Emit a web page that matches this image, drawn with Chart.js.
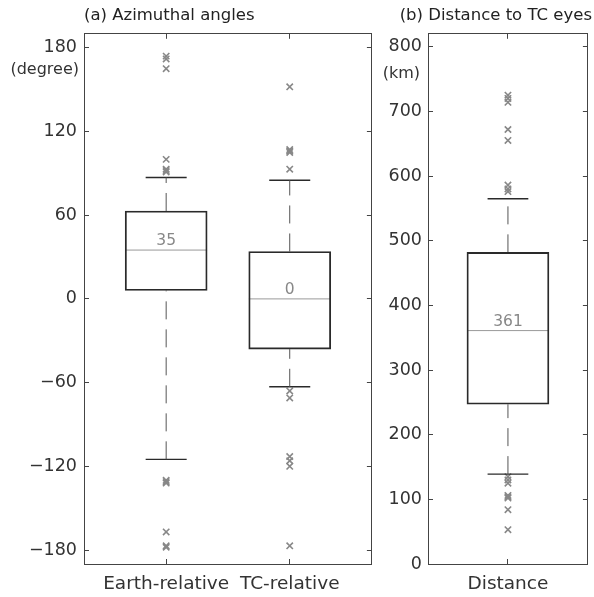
<!DOCTYPE html>
<html>
<head>
<meta charset="utf-8">
<script src="https://cdn.jsdelivr.net/npm/chart.js@4.4.1/dist/chart.umd.min.js"></script>
<style>
  html, body { margin:0; padding:0; background:#fff; }
  #wrap { position:relative; width:594px; height:597px; }
  #chartA { position:absolute; left:0; top:0; }
  #chartB { position:absolute; left:378px; top:0; }
</style>
</head>
<body>
<div id="wrap">
  <canvas id="chartA" width="378" height="597"></canvas>
  <canvas id="chartB" width="216" height="597"></canvas>
</div>
<script>
// Panel (a) azimuthal angles
const categoriesA = ['Earth-relative', 'TC-relative'];
const q1A = [6, -36];
const medianA = [35, 0];
const q3A = [63, 34];
const whiskerLowA = [-115, -63];
const whiskerHighA = [87, 85];
const outliersEarth = [174, 172, 165, 100, 93, 92, 91, -130, -131, -132, -167, -177, -178];
const outliersTC = [152, 107, 106, 105, 93, -66, -71, -113, -116, -120, -177];
const yTicksA = [-180, -120, -60, 0, 60, 120, 180];

// Panel (b) distance to TC eyes
const categoriesB = ['Distance'];
const q1B = [247];
const medianB = [361];
const q3B = [482];
const whiskerLowB = [139];
const whiskerHighB = [565];
const outliersDistance = [725, 720, 714, 672, 655, 586, 580, 576, 135, 130, 125, 106, 104, 102, 84, 53];
const yTicksB = [0, 100, 200, 300, 400, 500, 600, 700, 800];

const FONT = '"DejaVu Sans", sans-serif';
const TXT = '#333';
const AXIS = '#444';
const BOX_HALF = 0.331;   // half box width in x units (same px per unit in both panels)
const CAP_HALF = 0.166;

function seg(points, color, dash, width){
  return {
    type:'line', data: points, borderColor: color, borderWidth: width || 1,
    borderDash: dash || [], pointRadius: 0, fill: false, tension: 0
  };
}

function boxDatasets(cats, q1, med, q3, lo, hi, outliers){
  const ds = [{
    type:'bar',
    data: cats.map((c, i) => ({x: i + 1, y: [q1[i], q3[i]]})),
    backgroundColor: 'rgba(0,0,0,0)',
    borderColor: '#2a2a2a', borderWidth: 1.2, borderSkipped: false,
    barThickness: 82
  }];
  cats.forEach((c, i) => {
    const x = i + 1;
    ds.push(seg([{x, y:q3[i]}, {x, y:hi[i]}], '#555', [18, 10]));
    ds.push(seg([{x, y:lo[i]}, {x, y:q1[i]}], '#555', [18, 10]));
    ds.push(seg([{x:x - CAP_HALF, y:hi[i]}, {x:x + CAP_HALF, y:hi[i]}], '#2a2a2a', null, 1.4));
    ds.push(seg([{x:x - CAP_HALF, y:lo[i]}, {x:x + CAP_HALF, y:lo[i]}], '#2a2a2a', null, 1.4));
    ds.push(seg([{x:x - BOX_HALF, y:med[i]}, {x:x + BOX_HALF, y:med[i]}], '#999'));
    ds.push({
      type:'scatter', data: outliers[i].map(v => ({x, y:v})),
      pointStyle:'crossRot', pointRadius: 4.5, borderWidth: 1.6,
      borderColor:'#888', backgroundColor:'#888'
    });
  });
  return ds;
}

const boxLabels = {
  id: 'boxLabels',
  afterDatasetsDraw(chart, args, opts){
    const {ctx} = chart;
    const x = chart.scales.x, y = chart.scales.y;
    ctx.save();
    ctx.font = '15.5px ' + FONT;
    ctx.fillStyle = '#888';
    ctx.textAlign = 'center';
    ctx.textBaseline = 'alphabetic';
    opts.medians.forEach((m, i) => ctx.fillText(String(m), x.getPixelForValue(i + 1), y.getPixelForValue(m) - 5));
    ctx.font = '16px ' + FONT;
    ctx.fillStyle = TXT;
    ctx.textAlign = 'right';
    ctx.textBaseline = 'middle';
    ctx.fillText(opts.unit, chart.chartArea.left - opts.unitGap, chart.chartArea.top + opts.unitDy);
    ctx.restore();
  }
};

function makeChart(id, o){
  const catTicks = s => { s.ticks = o.cats.map((c, i) => ({value: i + 1})); };
  const valTicks = s => { s.ticks = o.yTicks.map(v => ({value: v})); };
  const grid = {drawOnChartArea:false, tickLength:-5, color:AXIS, lineWidth:1, offset:false};
  const border = {color:AXIS, width:1};
  return new Chart(document.getElementById(id), {
    type:'bar',
    data: { datasets: boxDatasets(o.cats, o.q1, o.med, o.q3, o.lo, o.hi, o.outliers) },
    options: {
      responsive:false, animation:false, devicePixelRatio:1,
      layout: { padding: {left:0, right:o.padRight, top:0, bottom:0} },
      plugins: {
        legend:{display:false}, tooltip:{enabled:false},
        title: {
          display:true, text:o.title, align:o.titleAlign, fullSize:o.titleFull,
          color:'#222', font:{family:FONT, size:16.5, weight:'normal'},
          padding:{top:6, bottom:8}
        },
        boxLabels: {medians:o.med, unit:o.unit, unitGap:o.unitGap, unitDy:o.unitDy}
      },
      scales: {
        x: {
          type:'linear', position:'bottom', min:o.xMin, max:o.xMax, offset:false,
          afterBuildTicks: catTicks,
          ticks: {callback: v => o.cats[v - 1], color:TXT, font:{family:FONT, size:18.5}, padding:14, maxRotation:0, autoSkip:false},
          grid, border, afterFit: s => { s.height = 33; }
        },
        x2: {
          type:'linear', position:'top', min:o.xMin, max:o.xMax, offset:false,
          afterBuildTicks: catTicks, ticks:{display:false},
          grid, border, afterFit: s => { s.height = 0; }
        },
        y: {
          type:'linear', position:'left', min:o.yMin, max:o.yMax,
          afterBuildTicks: valTicks,
          ticks: {callback: v => String(v).replace('-', '\u2212'), color:TXT, font:{family:FONT, size:17.5}, padding:o.yPad},
          grid, border, afterFit: s => { s.width = o.yWidth; }
        },
        y2: {
          type:'linear', position:'right', min:o.yMin, max:o.yMax,
          afterBuildTicks: valTicks, ticks:{display:false},
          grid, border, afterFit: s => { s.width = o.y2Width; }
        }
      }
    },
    plugins: [boxLabels]
  });
}

makeChart('chartA', {
  cats:categoriesA, q1:q1A, med:medianA, q3:q3A, lo:whiskerLowA, hi:whiskerHighA,
  outliers:[outliersEarth, outliersTC], yTicks:yTicksA,
  title:'(a) Azimuthal angles', titleAlign:'start', titleFull:false,
  unit:'(degree)', unitGap:5, unitDy:36,
  xMin:0.335, xMax:2.665, yMin:-190, yMax:190,
  yWidth:84, y2Width:6, padRight:0, yPad:12
});

makeChart('chartB', {
  cats:categoriesB, q1:q1B, med:medianB, q3:q3B, lo:whiskerLowB, hi:whiskerHighB,
  outliers:[outliersDistance], yTicks:yTicksB,
  title:'(b) Distance to TC eyes', titleAlign:'end', titleFull:true,
  unit:'(km)', unitGap:8, unitDy:40,
  xMin:0.3485, xMax:1.6515, yMin:0, yMax:820,
  yWidth:50, y2Width:3, padRight:2, yPad:11
});
</script>
</body>
</html>
